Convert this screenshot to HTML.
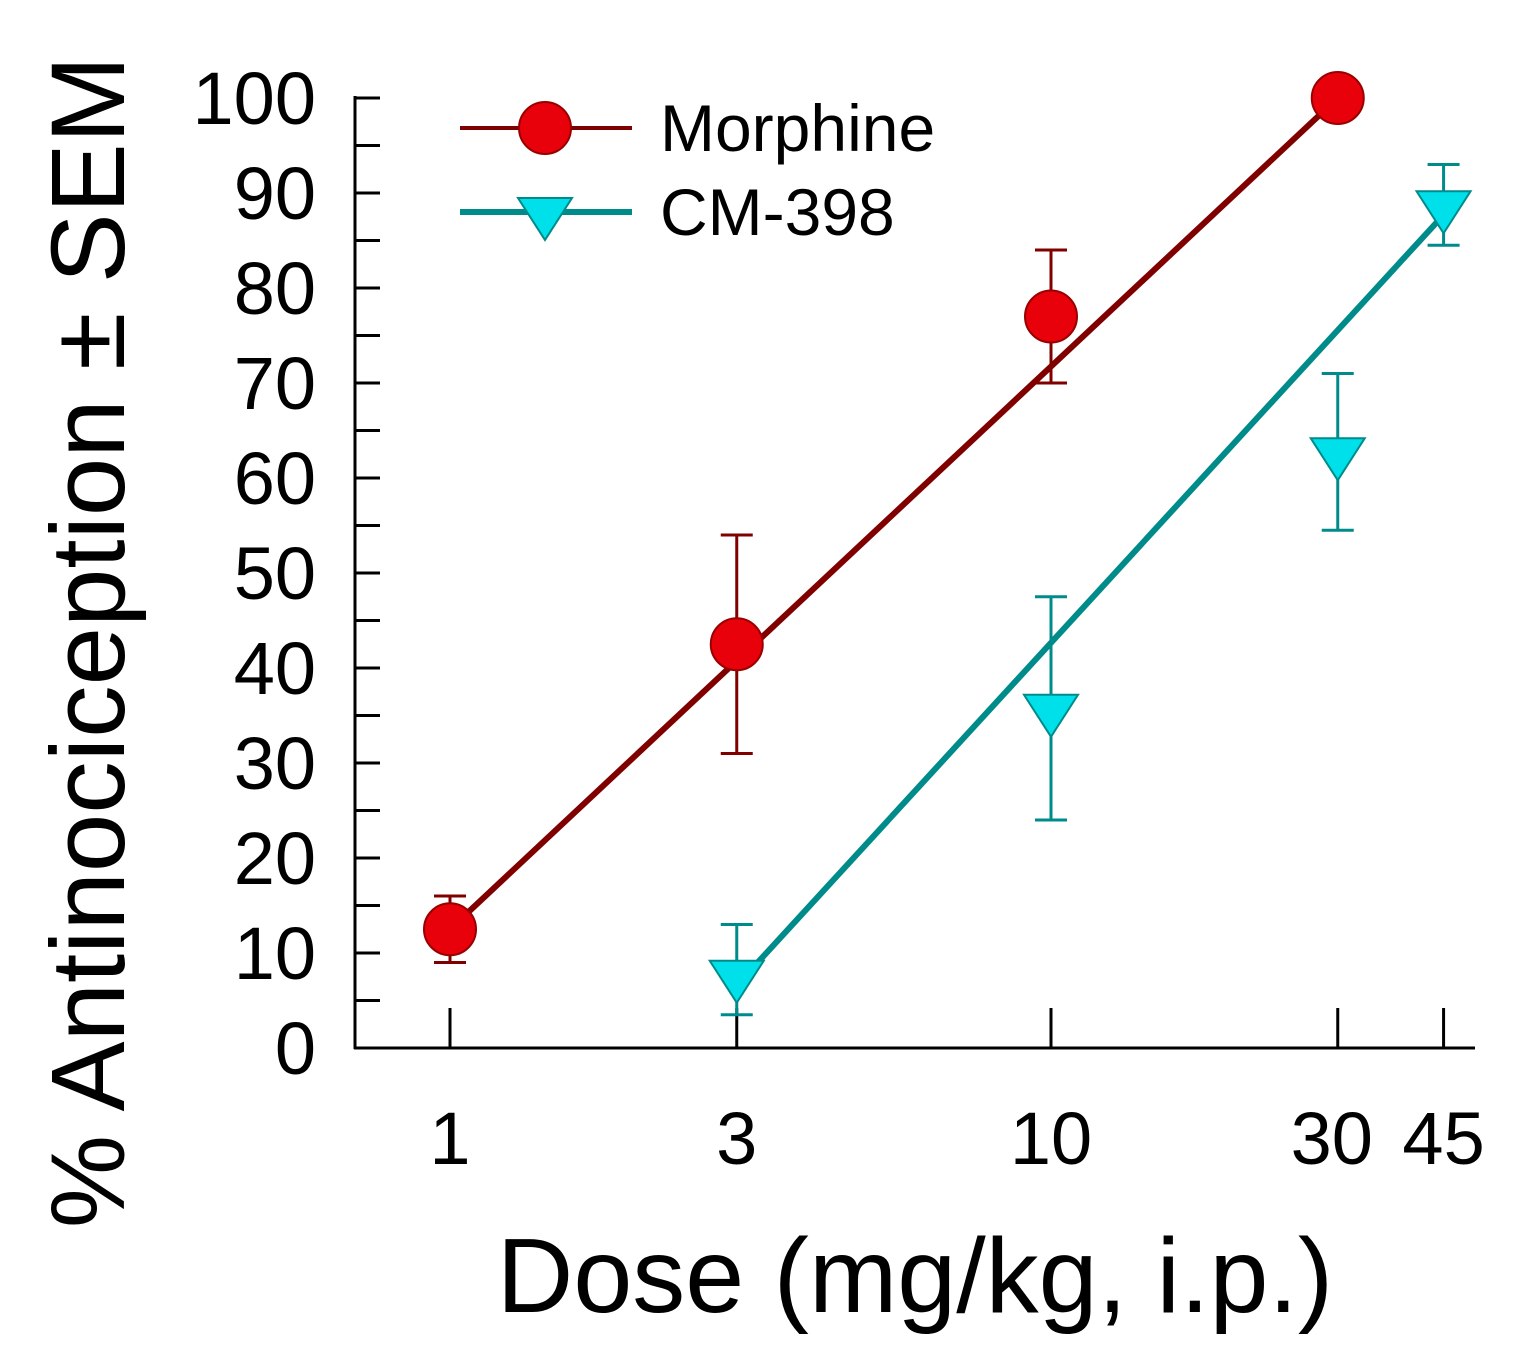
<!DOCTYPE html>
<html><head><meta charset="utf-8"><style>
html,body{margin:0;padding:0;background:#fff;}
svg text{font-family:"Liberation Sans",Arial,sans-serif;fill:#000;}
</style></head><body>
<svg id="chart" width="1528" height="1364" viewBox="0 0 1528 1364" xmlns="http://www.w3.org/2000/svg">
<g id="axes"></g>
<g id="series"></g>
<g id="legend">
  <line x1="460" y1="128" x2="632" y2="128" stroke="#800000" stroke-width="4"/>
  <circle cx="545" cy="128" r="26" fill="#e8000b" stroke="#900" stroke-width="2"/>
  <text x="660" y="151" font-size="66">Morphine</text>
  <line x1="460" y1="212" x2="632" y2="212" stroke="#008b8b" stroke-width="6"/>
  <polygon points="518,198 572,198 545,240" fill="#00e0ea" stroke="#008b8b" stroke-width="2"/>
  <text x="660" y="235" font-size="66">CM-398</text>
</g>
<text x="915" y="1312" font-size="106" text-anchor="middle">Dose (mg/kg, i.p.)</text>
<text transform="translate(124,642) rotate(-90)" font-size="105" text-anchor="middle">% Antinociception ± SEM</text>
</svg>
<script>
const xTicks = [1, 3, 10, 30, 45];
const xTickLabels = ["1", "3", "10", "30", "45"];
const yTicks = [0, 10, 20, 30, 40, 50, 60, 70, 80, 90, 100];
const morphineDoses = [1, 3, 10, 30];
const morphineValues = [12.5, 42.5, 77, 100];
const morphineLow = [9, 31, 70, 100];
const morphineHigh = [16, 54, 84, 100];
const morphineFit = [12.5, 100];
const cmDoses = [3, 10, 30, 45];
const cmValues = [7.5, 35.5, 62.5, 88.5];
const cmLow = [3.5, 24, 54.5, 84.5];
const cmHigh = [13, 47.5, 71, 93];
const cmFit = [6.6, 87.7];

const NS = "http://www.w3.org/2000/svg";
const xs = d => 450 + 601 * Math.log10(d);
const ys = v => 1048 - 9.5 * v;
function mk(tag, attrs, parent) {
  const e = document.createElementNS(NS, tag);
  for (const k in attrs) e.setAttribute(k, attrs[k]);
  parent.appendChild(e);
  return e;
}
const axes = document.getElementById('axes');
const series = document.getElementById('series');
let e;
e = mk('line', {x1: 355, y1: 96, x2: 355, y2: 1049, stroke: '#000', 'stroke-width': 3}, axes);


e = mk('line', {x1: 354, y1: 1048, x2: 1475, y2: 1048, stroke: '#000', 'stroke-width': 3}, axes);


for (let v = 0; v <= 100; v += 5) {
  e = mk('line', {x1: 355, y1: ys(v), x2: 380, y2: ys(v), stroke: '#000', 'stroke-width': 3}, axes);
  
  
}
yTicks.forEach(v => {
  e = mk('text', {x: 316, y: ys(v) + 26, 'font-size': 74, 'text-anchor': 'end'}, axes);
  e.textContent = String(v);
  
  
});
xTicks.forEach((d, i) => {
  e = mk('line', {x1: xs(d), y1: 1048, x2: xs(d), y2: 1008, stroke: '#000', 'stroke-width': 3}, axes);
  
  
  e = mk('text', {x: xs(d) + (d === 30 ? -6 : d === 45 ? 0 : 0), y: 1164, 'font-size': 74, 'text-anchor': 'middle'}, axes);
  e.textContent = xTickLabels[i];
  
  
});
function drawSeries(doses, vals, lo, hi, fit, lineCol, fillCol, shape, name) {
  const d0 = doses[0], d1 = doses[doses.length - 1];
  e = mk('line', {x1: xs(d0), y1: ys(fit[0]), x2: xs(d1), y2: ys(fit[1]), stroke: lineCol, 'stroke-width': 6}, series);
  
  
  doses.forEach((d, i) => {
    const x = xs(d);
    e = mk('path', {d: `M${x},${ys(lo[i])}V${ys(hi[i])}M${x-16},${ys(lo[i])}h32M${x-16},${ys(hi[i])}h32`, stroke: lineCol, 'stroke-width': 3, fill: 'none'}, series);
    
    
  });
  doses.forEach((d, i) => {
    const x = xs(d), y = ys(vals[i]);
    if (shape === 'circle') {
      e = mk('circle', {cx: x, cy: y, r: 26, fill: fillCol, stroke: '#900', 'stroke-width': 2}, series);
    } else {
      e = mk('polygon', {points: `${x-27},${y-16} ${x+27},${y-16} ${x},${y+26}`, fill: fillCol, stroke: lineCol, 'stroke-width': 2}, series);
    }
    
    
  });
}
drawSeries(morphineDoses, morphineValues, morphineLow, morphineHigh, morphineFit, '#800000', '#e8000b', 'circle', 'morphine');
drawSeries(cmDoses, cmValues, cmLow, cmHigh, cmFit, '#008b8b', '#00e0ea', 'tri', 'cm398');
</script>
</body></html>
